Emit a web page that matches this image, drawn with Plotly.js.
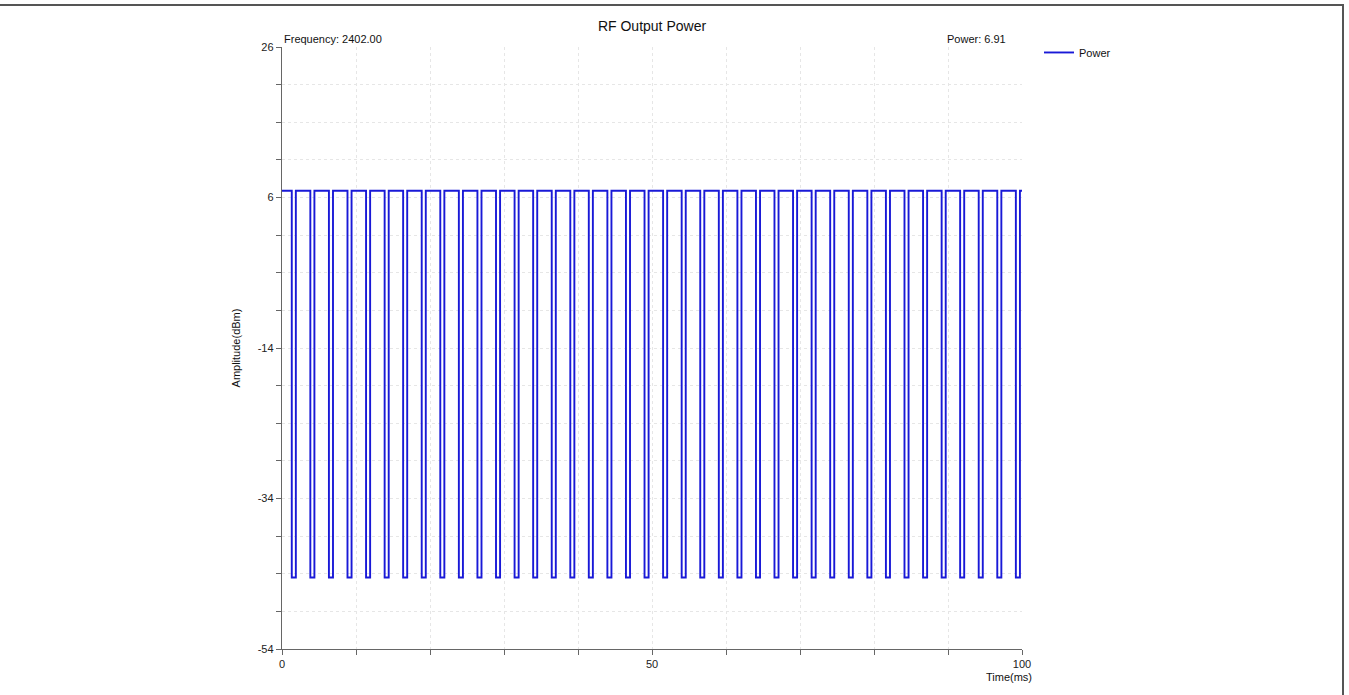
<!DOCTYPE html>
<html>
<head>
<meta charset="utf-8">
<script src="https://cdn.plot.ly/plotly-3.0.1.min.js"></script>
<style>
  html, body { margin: 0; padding: 0; background: #fff; }
  #chart { width: 1349px; height: 695px; }
  #frame { position: absolute; left: 0px; top: 4px; width: 1342px; height: 700px;
           border-top: 2px solid #555; border-right: 2px solid #555; pointer-events: none; }
</style>
</head>
<body>
<div id="chart"></div>
<div id="frame"></div>
<script>
// Values
const chartTitle = "RF Output Power";
const frequencyLabel = "Frequency: 2402.00";
const powerLabel = "Power: 6.91";
const seriesName = "Power";
const highLevel = 6.9;     // dBm, burst on
const lowLevel = -44.5;    // dBm, burst off
const startTime = 0;
const endTime = 100;
// falling edges (ms) of each off-gap, and rising edges (ms)
const fallTimes = [1.32, 3.83, 6.34, 8.85, 11.36, 13.87, 16.37, 18.88, 21.39, 23.90,
                   26.41, 28.92, 31.43, 33.94, 36.45, 38.96, 41.46, 43.97, 46.48, 48.99,
                   51.50, 54.01, 56.52, 59.03, 61.54, 64.05, 66.55, 69.06, 71.57, 74.08,
                   76.59, 79.10, 81.61, 84.12, 86.63, 89.14, 91.64, 94.15, 96.66, 99.17];
const riseTimes = [1.87, 4.38, 6.89, 9.40, 11.91, 14.42, 16.92, 19.43, 21.94, 24.45,
                   26.96, 29.47, 31.98, 34.49, 37.00, 39.51, 42.01, 44.52, 47.03, 49.54,
                   52.05, 54.56, 57.07, 59.58, 62.09, 64.60, 67.10, 69.61, 72.12, 74.63,
                   77.14, 79.65, 82.16, 84.67, 87.18, 89.69, 92.19, 94.70, 97.21, 99.72];
const yTickVals = [-54, -49, -44, -39, -34, -29, -24, -19, -14, -9, -4, 1, 6, 11, 16, 21, 26];
const yTickText = ["-54", "", "", "", "-34", "", "", "", "-14", "", "", "", "6", "", "", "", "26"];
const xTickVals = [0, 10, 20, 30, 40, 50, 60, 70, 80, 90, 100];
const xTickText = ["0", "", "", "", "", "50", "", "", "", "", "100"];

// Build the step trace from the edge lists
const xs = [startTime];
const ys = [highLevel];
for (let i = 0; i < fallTimes.length; i++) {
  xs.push(fallTimes[i], fallTimes[i], riseTimes[i], riseTimes[i]);
  ys.push(highLevel, lowLevel, lowLevel, highLevel);
}
xs.push(endTime);
ys.push(highLevel);

const font = { family: "Liberation Sans, Arial, sans-serif", size: 11, color: "#111" };

const trace = {
  x: xs, y: ys, type: "scatter", mode: "lines", name: seriesName,
  line: { color: "rgb(25,25,215)", width: 1.9 }
};

const layout = {
  width: 1349, height: 695,
  margin: { l: 282, r: 327, t: 47, b: 46 },
  paper_bgcolor: "#fff", plot_bgcolor: "#fff",
  font: font,
  title: { text: chartTitle, x: (282 + 370) / 1349, xanchor: "center", y: 0.962, yanchor: "middle",
           font: { family: font.family, size: 14, color: "#111" } },
  showlegend: true,
  legend: { x: 1.023, xanchor: "left", y: 1.015, yanchor: "top", bgcolor: "rgba(0,0,0,0)",
            font: { family: font.family, size: 11, color: "#111" } },
  xaxis: {
    range: [0, 100], tickvals: xTickVals, ticktext: xTickText,
    showline: true, linecolor: "#666", linewidth: 1.2,
    ticks: "outside", ticklen: 5, tickcolor: "#666",
    showgrid: true, gridcolor: "#e6e6e6", griddash: "dot", gridwidth: 1,
    zeroline: false, tickfont: { family: font.family, size: 11, color: "#222" }
  },
  yaxis: {
    range: [-54, 26], tickvals: yTickVals, ticktext: yTickText,
    showline: true, linecolor: "#666", linewidth: 1.2,
    ticks: "outside", ticklen: 5, tickcolor: "#666",
    showgrid: true, gridcolor: "#e6e6e6", griddash: "dot", gridwidth: 1,
    zeroline: false, tickfont: { family: font.family, size: 11, color: "#222" },
    title: { text: "Amplitude(dBm)", standoff: 14, font: { family: font.family, size: 11, color: "#111" } }
  },
  annotations: [
    { text: frequencyLabel, xref: "paper", yref: "paper", x: 0, xanchor: "left",
      y: 1, yanchor: "bottom", yshift: 0, showarrow: false, font: { family: font.family, size: 11, color: "#111" } },
    { text: powerLabel, xref: "paper", yref: "paper", x: (1008 - 282) / 740, xanchor: "right",
      y: 1, yanchor: "bottom", showarrow: false, font: { family: font.family, size: 11, color: "#111" } },
    { text: "Time(ms)", xref: "paper", yref: "paper", x: (1034 - 282) / 740, xanchor: "right",
      y: 0, yanchor: "top", yshift: -20, showarrow: false, font: { family: font.family, size: 11, color: "#111" } }
  ]
};

Plotly.newPlot("chart", [trace], layout, { displayModeBar: false, staticPlot: true });
</script>
</body>
</html>
